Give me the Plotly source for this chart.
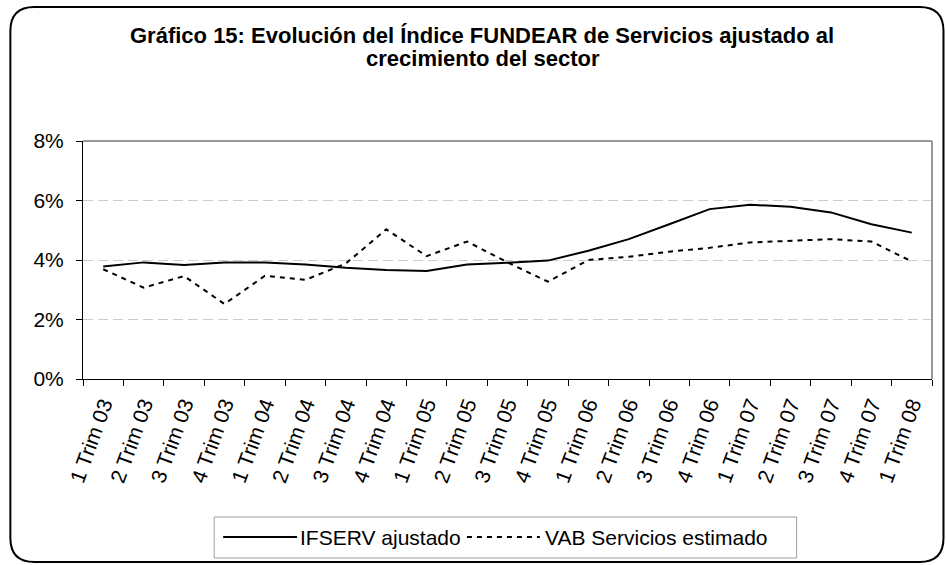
import plotly.graph_objects as go

categories = ["1 Trim 03", "2 Trim 03", "3 Trim 03", "4 Trim 03",
              "1 Trim 04", "2 Trim 04", "3 Trim 04", "4 Trim 04",
              "1 Trim 05", "2 Trim 05", "3 Trim 05", "4 Trim 05",
              "1 Trim 06", "2 Trim 06", "3 Trim 06", "4 Trim 06",
              "1 Trim 07", "2 Trim 07", "3 Trim 07", "4 Trim 07",
              "1 Trim 08"]
ifserv = [3.78, 3.92, 3.83, 3.92, 3.92, 3.85, 3.74, 3.66, 3.63, 3.85, 3.91,
          3.98, 4.31, 4.70, 5.20, 5.71, 5.86, 5.79, 5.60, 5.20, 4.92]
vab = [3.69, 3.07, 3.46, 2.52, 3.47, 3.33, 3.88, 5.03, 4.13, 4.62, 3.92,
       3.27, 4.00, 4.11, 4.28, 4.41, 4.59, 4.64, 4.70, 4.62, 3.95]
y_ticks = [0, 2, 4, 6, 8]
y_ticklabels = ["0%", "2%", "4%", "6%", "8%"]
series_names = ["IFSERV ajustado", "VAB Servicios estimado"]
title_lines = ["Gráfico 15: Evolución del Índice FUNDEAR de Servicios ajustado al",
               "crecimiento del sector"]

W, H = 946, 565
L, R, T, B = 82.7, 932.5, 141, 379
FONT = "Liberation Sans, Arial, sans-serif"
DASH = "5px,5px"

def px(x):
    return (x - L) / (R - L)

def py(y):
    return (B - y) / (B - T)

fig = go.Figure()
fig.add_trace(go.Scatter(x=categories, y=ifserv, mode="lines", name=series_names[0],
                         line=dict(color="black", width=2)))
fig.add_trace(go.Scatter(x=categories, y=vab, mode="lines", name=series_names[1],
                         line=dict(color="black", width=2, dash=DASH)))

# outer rounded border
x0, x1, y0, y1, r = 10, 944, 7, 562, 24
path = (f"M {px(x0+r)} {py(y0)} L {px(x1-r)} {py(y0)} Q {px(x1)} {py(y0)} {px(x1)} {py(y0+r)} "
        f"L {px(x1)} {py(y1-r)} Q {px(x1)} {py(y1)} {px(x1-r)} {py(y1)} "
        f"L {px(x0+r)} {py(y1)} Q {px(x0)} {py(y1)} {px(x0)} {py(y1-r)} "
        f"L {px(x0)} {py(y0+r)} Q {px(x0)} {py(y0)} {px(x0+r)} {py(y0)} Z")

legend_y = 537
shapes = [
    dict(type="path", xref="paper", yref="paper", path=path,
         line=dict(color="black", width=2), layer="below"),
    dict(type="line", xref="paper", yref="paper", x0=0, x1=1, y0=1, y1=1,
         line=dict(color="#999999", width=2)),
    dict(type="line", xref="paper", yref="paper", x0=1, x1=1, y0=0, y1=1,
         line=dict(color="#999999", width=2)),
    # custom legend
    dict(type="rect", xref="paper", yref="paper", x0=px(214), x1=px(797), y0=py(517), y1=py(558),
         line=dict(color="#a0a0a0", width=1), fillcolor="white"),
    dict(type="line", xref="paper", yref="paper", x0=px(223), x1=px(297),
         y0=py(legend_y), y1=py(legend_y), line=dict(color="black", width=2)),
    dict(type="line", xref="paper", yref="paper", x0=px(467), x1=px(540),
         y0=py(legend_y), y1=py(legend_y), line=dict(color="black", width=2, dash=DASH)),
]

annotations = [
    dict(text=f"<b>{title_lines[0]}</b>", xref="paper", yref="paper", x=px(482), y=py(35),
         xanchor="center", yanchor="middle", showarrow=False, font=dict(size=22, family=FONT)),
    dict(text=f"<b>{title_lines[1]}</b>", xref="paper", yref="paper", x=px(483), y=py(59),
         xanchor="center", yanchor="middle", showarrow=False, font=dict(size=22, family=FONT)),
    dict(text=series_names[0], xref="paper", yref="paper", x=px(298), y=py(legend_y),
         xanchor="left", yanchor="middle", showarrow=False, font=dict(size=21, family=FONT)),
    dict(text=series_names[1], xref="paper", yref="paper", x=px(543), y=py(legend_y),
         xanchor="left", yanchor="middle", showarrow=False, font=dict(size=21, family=FONT)),
]

fig.update_layout(
    width=W, height=H,
    margin=dict(l=L, r=W - R, t=T, b=H - B, autoexpand=False),
    paper_bgcolor="white", plot_bgcolor="white",
    font=dict(family=FONT, color="black", size=20),
    showlegend=False,
    shapes=shapes,
    annotations=annotations,
    xaxis=dict(type="category", showgrid=False, showline=True, linecolor="black", linewidth=1,
               ticks="outside", tickson="boundaries", ticklen=6, tickcolor="black",
               tickangle=-70, tickfont=dict(size=21, family=FONT), ticklabelstandoff=4,
               range=[-0.5, len(categories) - 0.5], fixedrange=True),
    yaxis=dict(range=[0, 8], tickvals=y_ticks, ticktext=y_ticklabels,
               showline=True, linecolor="black", linewidth=1,
               ticks="outside", ticklen=6, tickcolor="black", ticklabelstandoff=8,
               showgrid=True, gridcolor="#cccccc", griddash="10px,5px", gridwidth=1,
               tickfont=dict(size=21, family=FONT), zeroline=False),
)

fig.write_html("out.html", config={"displayModeBar": False},
               post_script="document.body.style.margin='0px';")
